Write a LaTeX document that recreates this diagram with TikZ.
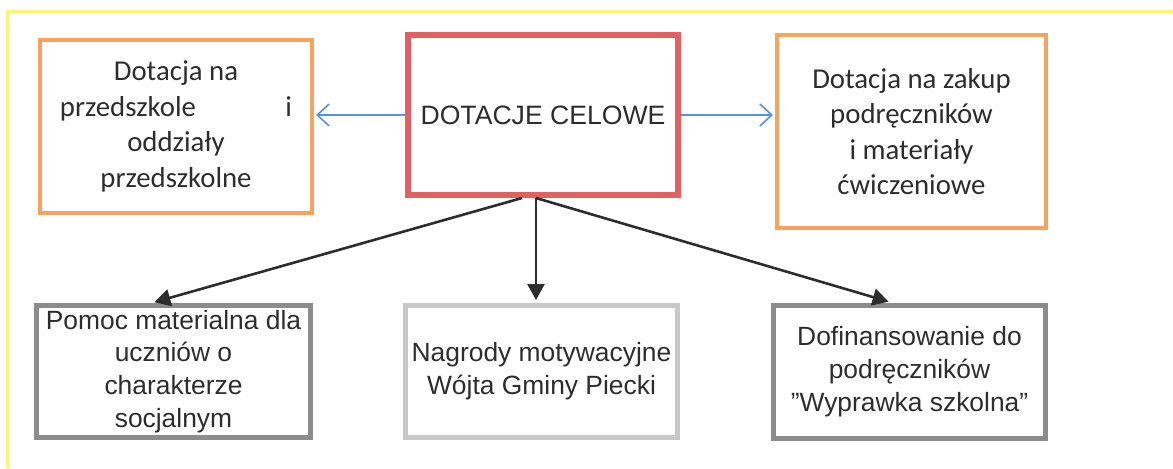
\documentclass[tikz,border=0pt]{standalone}
\usepackage{fontspec}
\setmainfont{Liberation Sans}
\newfontfamily\calibri{Carlito}
\usepackage{tikz}
\usetikzlibrary{arrows.meta, positioning}
\usepackage{xcolor}
\definecolor{frameyellow}{RGB}{255,242,120}
\definecolor{boxorange}{RGB}{246,163,96}
\definecolor{boxred}{RGB}{226,96,96}
\definecolor{boxgrey}{RGB}{140,140,140}
\definecolor{boxlight}{RGB}{200,200,200}
\definecolor{arrowblue}{RGB}{86,146,222}
\definecolor{textdark}{RGB}{45,45,45}

\begin{document}
\begin{tikzpicture}[
node distance=52.5pt and 45.5pt,
topbox/.style={rectangle, draw=boxorange, line width=2pt, align=center, minimum width=136pt, text=textdark, font=\calibri\fontsize{14.4}{17.8}\selectfont},
mainbox/.style={rectangle, draw=boxred, line width=3pt, minimum width=135pt, minimum height=80pt, text=textdark, font=\fontsize{13.3}{16}\selectfont},
lowbox/.style={rectangle, draw=boxgrey, line width=2.5pt, align=center, minimum width=136pt, minimum height=66pt, inner xsep=2pt, inner ysep=1pt, text=textdark, font=\fontsize{13.2}{16.4}\selectfont},
barb/.style={-{Straight Barb[length=6pt,width=11pt]}, draw=arrowblue, line width=0.8pt, shorten >=1pt},
arrow/.style={-{Triangle[length=8pt,width=8.5pt]}, draw=textdark, line width=1.3pt, shorten >=1.5pt}
]
    \useasboundingbox (-271.5pt,-176.5pt) rectangle (315pt,57.5pt);
    \draw[frameyellow, line width=1.5pt] (-267.5pt,-176.5pt) |- (315pt,52pt);

    \node[mainbox] (CT) at (0,0) {DOTACJE CELOWE};
    \node[topbox, minimum height=86.5pt, left=45.5pt of CT, yshift=-5.75pt] (PS) {Dotacja na\\\makebox[116pt]{przedszkole\hfill i}\\oddziały\\przedszkolne};
    \node[topbox, minimum width=134.5pt, minimum height=96.5pt, right=47pt of CT, yshift=-8.25pt] (PM) {Dotacja na zakup\\podręczników\\i materiały\\ćwiczeniowe};
    \node[lowbox, draw=boxlight, below=of CT, xshift=-0.75pt] (MN) {Nagrody motywacyjne\\Wójta Gminy Piecki};
    \node[lowbox, minimum width=137pt, left=45pt of MN] (PMS) {Pomoc materialna dla\\uczniów o\\charakterze\\socjalnym};
    \node[lowbox, minimum height=66.5pt, right=of MN] (WS) {Dofinansowanie do\\podręczników\\\symbol{34}Wyprawka szkolna\symbol{34}};

    \coordinate (fork) at ([xshift=-3.5pt]CT.south);

    \draw[barb] (CT.west) -- (CT.west -| PS.east);
    \draw[barb] (CT.east) -- (CT.east -| PM.west);
    \draw[arrow] ([xshift=-10.5pt]CT.south) -- ([xshift=-11pt]PMS.north);
    \draw[arrow] (fork) -- (fork |- MN.north);
    \draw[arrow] (fork) -- ([xshift=-9pt]WS.north);

\end{tikzpicture}
\end{document}
